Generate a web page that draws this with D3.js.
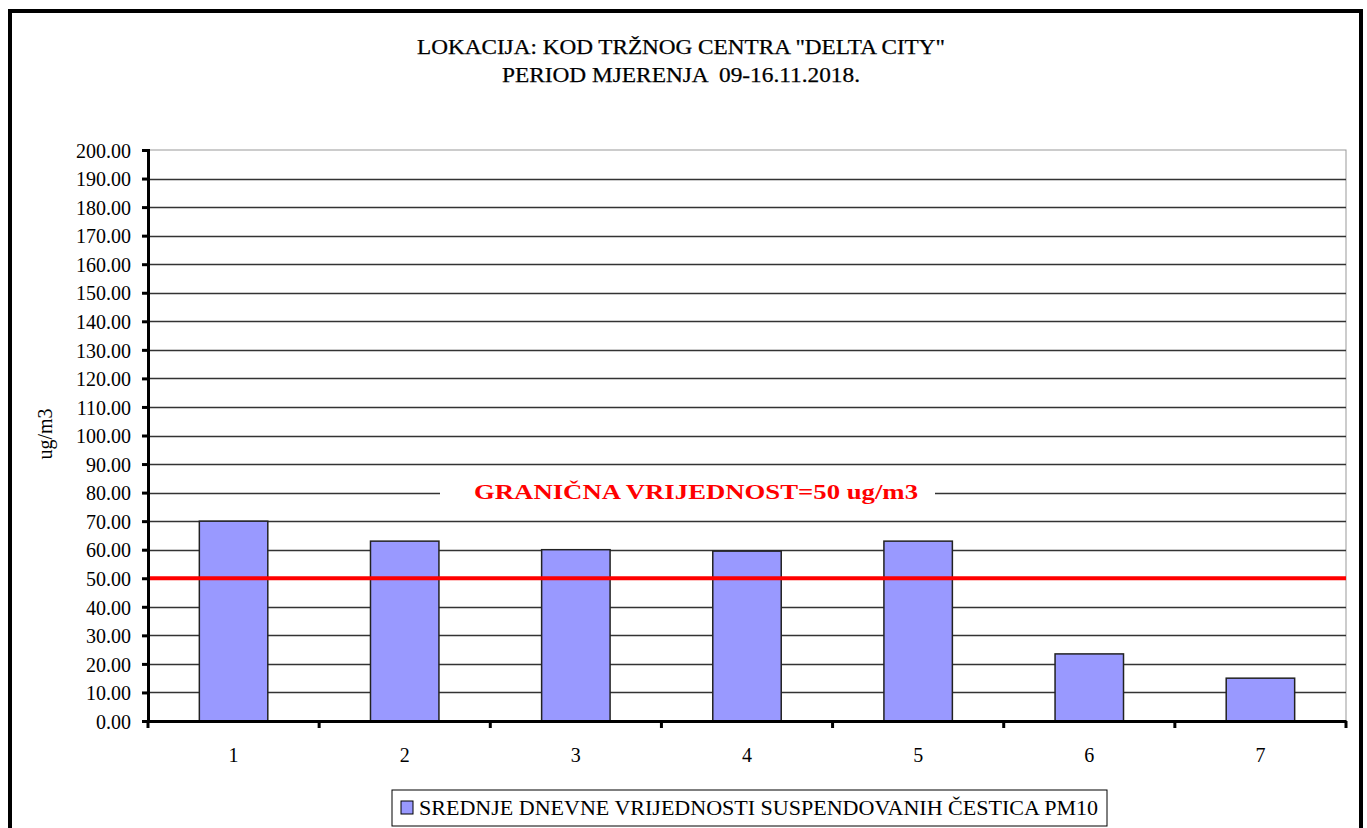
<!DOCTYPE html>
<html>
<head>
<meta charset="utf-8">
<script src="https://cdn.jsdelivr.net/npm/d3@7"></script>
<style>
  body { margin: 0; background: #fff; }
</style>
</head>
<body>
<script>
var days = ["1", "2", "3", "4", "5", "6", "7"];
var pm10 = [70.0, 63.0, 60.0, 59.5, 63.0, 23.5, 15.0];
var yTicks = d3.range(0, 201, 10);
var limitValue = 50;
var titleLines = ["LOKACIJA: KOD TRŽNOG CENTRA \"DELTA CITY\"", "PERIOD MJERENJA  09-16.11.2018."];
var limitLabel = "GRANIČNA VRIJEDNOST=50 ug/m3";
var seriesName = "SREDNJE DNEVNE VRIJEDNOSTI SUSPENDOVANIH ČESTICA PM10";

var serif = "'Liberation Serif', 'DejaVu Serif', serif";
var width = 1367, height = 828;
var margins = {top: 150, left: 148, right: 21, bottom: 107};

var svg = d3.select("body").append("svg")
    .attr("width", width)
    .attr("height", height)
    .style("font-family", serif);

// outer frame
svg.append("rect")
    .attr("x", 10).attr("y", 11)
    .attr("width", 1351).attr("height", 830)
    .attr("fill", "#fff")
    .attr("stroke", "#000")
    .attr("stroke-width", 4);

svg.selectAll("text.title").data(titleLines)
    .enter().append("text")
    .attr("class", "title")
    .attr("x", 681)
    .attr("y", function(d, i) { return 54 + i * 28; })
    .attr("text-anchor", "middle")
    .attr("font-family", serif)
    .attr("textLength", function(d, i) { return i == 0 ? 528 : 358; })
    .attr("lengthAdjust", "spacingAndGlyphs")
    .style("white-space", "pre")
    .style("font-size", "20px")
    .style("fill", "#000")
    .style("stroke", "#000")
    .style("stroke-width", 0.25)
    .text(function(d) { return d; });

var x = d3.scaleBand()
    .domain(days)
    .range([margins.left, width - margins.right])
    .paddingInner(0.6)
    .paddingOuter(0.3);

var xOuter = d3.scaleBand()
    .domain(days)
    .range([margins.left, width - margins.right]);

var y = d3.scaleLinear()
    .domain([0, 200])
    .range([height - margins.bottom, margins.top]);

var plotW = width - margins.right - margins.left;

// plot area border (gray)
svg.append("rect")
    .attr("x", margins.left).attr("y", margins.top)
    .attr("width", plotW)
    .attr("height", y(0) - margins.top)
    .attr("fill", "#fff")
    .attr("stroke", "#999")
    .attr("stroke-width", 1);

// grid
svg.append("g").selectAll("line").data(yTicks.filter(function(d) { return d > 0 && d < 200; }))
    .enter().append("line")
    .attr("x1", margins.left).attr("x2", width - margins.right)
    .attr("y1", function(d) { return Math.round(y(d)) + 0.5; })
    .attr("y2", function(d) { return Math.round(y(d)) + 0.5; })
    .attr("stroke", "#333")
    .attr("stroke-width", 1.3);

// bars
svg.append("g").selectAll("rect").data(pm10)
    .enter().append("rect")
    .attr("x", function(d, i) { return x(days[i]); })
    .attr("y", function(d) { return y(d); })
    .attr("width", x.bandwidth())
    .attr("height", function(d) { return y(0) - y(d); })
    .attr("fill", "#9999ff")
    .attr("stroke", "#222")
    .attr("stroke-width", 1.5);

// limit line
svg.append("line")
    .attr("x1", margins.left).attr("x2", width - margins.right)
    .attr("y1", y(limitValue)).attr("y2", y(limitValue))
    .attr("stroke", "#ff0000")
    .attr("stroke-width", 4);

// limit label with white background
svg.append("rect")
    .attr("x", 440).attr("y", 480)
    .attr("width", 495).attr("height", 24)
    .attr("fill", "#fff");
svg.append("text")
    .attr("x", 474).attr("y", 499)
    .attr("font-family", serif)
    .attr("textLength", 444)
    .attr("lengthAdjust", "spacingAndGlyphs")
    .style("font-size", "22px")
    .style("font-weight", "bold")
    .style("fill", "#ff0000")
    .text(limitLabel);

// y axis
var yAxis = d3.axisLeft(y)
    .tickValues(yTicks)
    .tickFormat(d3.format(".2f"))
    .tickSize(6)
    .tickPadding(11);

var yG = svg.append("g")
    .attr("transform", "translate(" + margins.left + ",0)")
    .call(yAxis)
    .attr("font-family", serif);
yG.select(".domain").attr("stroke", "#000").attr("stroke-width", 3);
yG.selectAll(".tick line").attr("stroke", "#000").attr("stroke-width", 3);
yG.selectAll(".tick text")
    .attr("dy", "0.36em")
    .style("font-size", "20px")
    .style("fill", "#000");

// x axis
var xAxis = d3.axisBottom(xOuter)
    .tickSize(0)
    .tickPadding(27);

var xG = svg.append("g")
    .attr("transform", "translate(0," + y(0) + ")")
    .call(xAxis)
    .attr("font-family", serif);
xG.select(".domain").attr("stroke", "#000").attr("stroke-width", 3);
xG.selectAll(".tick text")
    .style("font-size", "20px")
    .style("fill", "#000");

// x ticks at category boundaries
xG.append("g").selectAll("line").data(days.concat(["end"]))
    .enter().append("line")
    .attr("x1", function(d, i) { return margins.left + i * xOuter.step(); })
    .attr("x2", function(d, i) { return margins.left + i * xOuter.step(); })
    .attr("y1", 0).attr("y2", 7)
    .attr("stroke", "#000")
    .attr("stroke-width", 3);

// y label
svg.append("text")
    .attr("transform", "translate(52,434) rotate(-90)")
    .attr("text-anchor", "middle")
    .style("font-size", "20px")
    .style("fill", "#000")
    .text("ug/m3");

// legend
var legend = svg.append("g");
legend.append("rect")
    .attr("x", 392).attr("y", 790)
    .attr("width", 715).attr("height", 36)
    .attr("fill", "#fff")
    .attr("stroke", "#000")
    .attr("stroke-width", 1);
legend.append("rect")
    .attr("x", 401).attr("y", 801)
    .attr("width", 12).attr("height", 13)
    .attr("fill", "#9999ff")
    .attr("stroke", "#000")
    .attr("stroke-width", 1);
legend.append("text")
    .attr("x", 419).attr("y", 815)
    .attr("textLength", 679)
    .attr("lengthAdjust", "spacingAndGlyphs")
    .style("font-size", "20px")
    .style("fill", "#000")
    .text(seriesName);
</script>
</body>
</html>
